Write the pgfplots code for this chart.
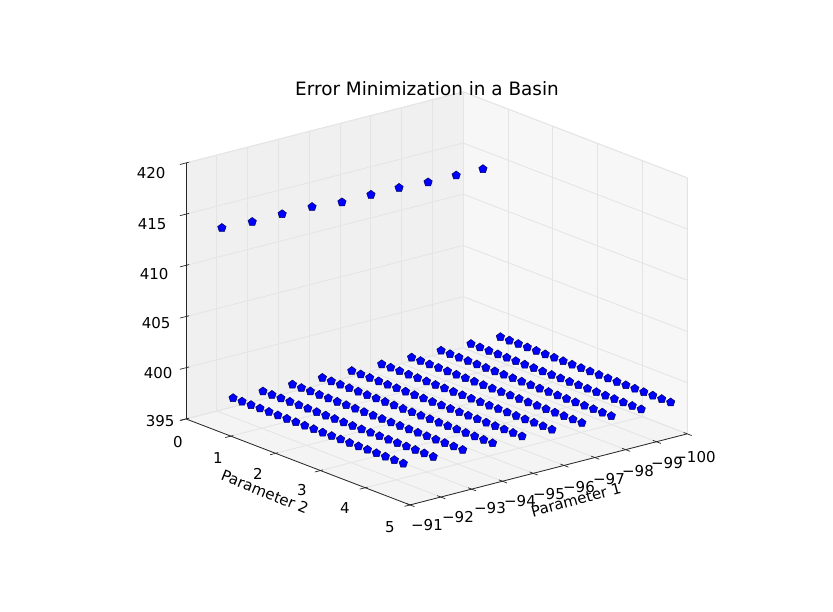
\documentclass[border=0pt]{standalone}
\usepackage{fontspec}
\setmainfont{DejaVu Sans}
\usepackage{pgfplots}
\pgfplotsset{compat=1.18}
\definecolor{floorc}{gray}{0.955}
\definecolor{leftc}{gray}{0.94}
\definecolor{rightc}{gray}{0.967}
\definecolor{edgec}{gray}{0.90}
\definecolor{gridc}{gray}{0.895}
\definecolor{markedge}{rgb}{0,0,0.35}
\newcommand{\tf}{\fontsize{15}{18}\selectfont}
\pgfplotsset{pstyle/.style={only marks, mark=pentagon*, mark size=4.4pt,
  mark options={fill=blue, draw=markedge, line width=0.5pt}}}
\begin{document}
\begin{tikzpicture}
\begin{axis}[
  x={(-30.8pt,-7.9pt)}, y={(44.8pt,-17.2pt)}, z={(0pt,10.24pt)},
  disabledatascaling,
  xmin=-100, xmax=-91, ymin=0, ymax=5, zmin=395, zmax=420,
  hide axis, clip=false,
]
% panes
\fill[floorc] (axis cs:-91,0,395) -- (axis cs:-91,5,395) -- (axis cs:-100,5,395) -- (axis cs:-100,0,395) -- cycle;
\fill[leftc] (axis cs:-91,0,395) -- (axis cs:-100,0,395) -- (axis cs:-100,0,420) -- (axis cs:-91,0,420) -- cycle;
\fill[rightc] (axis cs:-100,0,395) -- (axis cs:-100,5,395) -- (axis cs:-100,5,420) -- (axis cs:-100,0,420) -- cycle;
% grid on floor
\pgfplotsinvokeforeach{-100,...,-91}{\draw[gridc, line width=0.8pt] (axis cs:#1,0,395) -- (axis cs:#1,5,395);}
\pgfplotsinvokeforeach{0,...,5}{\draw[gridc, line width=0.8pt] (axis cs:-91,#1,395) -- (axis cs:-100,#1,395);}
% grid on left wall (y=0)
\pgfplotsinvokeforeach{-100,...,-91}{\draw[gridc, line width=0.8pt] (axis cs:#1,0,395) -- (axis cs:#1,0,420);}
\pgfplotsinvokeforeach{395,400,...,420}{\draw[gridc, line width=0.8pt] (axis cs:-91,0,#1) -- (axis cs:-100,0,#1);}
% grid on right wall (x=-100)
\pgfplotsinvokeforeach{0,...,5}{\draw[gridc, line width=0.8pt] (axis cs:-100,#1,395) -- (axis cs:-100,#1,420);}
\pgfplotsinvokeforeach{395,400,...,420}{\draw[gridc, line width=0.8pt] (axis cs:-100,0,#1) -- (axis cs:-100,5,#1);}
% pane edges
\draw[edgec, line width=0.8pt] (axis cs:-91,0,420) -- (axis cs:-100,0,420) -- (axis cs:-100,5,420) -- (axis cs:-100,5,395);
\draw[edgec, line width=0.8pt] (axis cs:-100,0,395) -- (axis cs:-100,0,420);
% axis lines
\draw[black!85, line width=0.8pt] (axis cs:-91,5,395) -- (axis cs:-100,5,395);
\draw[black!85, line width=0.8pt] (axis cs:-91,0,395) -- (axis cs:-91,5,395);
\draw[black!85, line width=0.8pt] (axis cs:-91,0,395) -- (axis cs:-91,0,420);
% ticks
\pgfplotsinvokeforeach{-100,...,-91}{\draw[black!85, line width=0.7pt] (axis cs:#1,4.92,395) -- (axis cs:#1,5.1,395);}
\pgfplotsinvokeforeach{0,...,5}{\draw[black!85, line width=0.7pt] (axis cs:-91.08,#1,395) -- (axis cs:-90.82,#1,395);}
\pgfplotsinvokeforeach{395,400,...,420}{\draw[black!85, line width=0.7pt] (axis cs:-91.1,0,#1) -- (axis cs:-90.8,0,#1);}
\coordinate (L) at (axis cs:-91,0,395);
% data
\addplot3[pstyle] coordinates {(-91,1.05,398.8) (-91,1.25,398.8) (-91,1.45,398.8) (-91,1.65,398.8) (-91,1.85,398.8) (-91,2.05,398.8) (-91,2.25,398.8) (-91,2.45,398.8) (-91,2.65,398.8) (-91,2.85,398.8) (-91,3.05,398.8) (-91,3.25,398.8) (-91,3.45,398.8) (-91,3.65,398.8) (-91,3.85,398.8) (-91,4.05,398.8) (-91,4.25,398.8) (-91,4.45,398.8) (-91,4.65,398.8) (-91,4.85,398.8)};
\addplot3[pstyle] coordinates {(-92,1.03,398.65) (-92,1.23,398.65) (-92,1.43,398.65) (-92,1.63,398.65) (-92,1.83,398.65) (-92,2.03,398.65) (-92,2.23,398.65) (-92,2.43,398.65) (-92,2.63,398.65) (-92,2.83,398.65) (-92,3.03,398.65) (-92,3.23,398.65) (-92,3.43,398.65) (-92,3.63,398.65) (-92,3.83,398.65) (-92,4.03,398.65) (-92,4.23,398.65) (-92,4.43,398.65) (-92,4.63,398.65) (-92,4.83,398.65)};
\addplot3[pstyle] coordinates {(-93,1.00,398.5) (-93,1.20,398.5) (-93,1.40,398.5) (-93,1.60,398.5) (-93,1.80,398.5) (-93,2.00,398.5) (-93,2.20,398.5) (-93,2.40,398.5) (-93,2.60,398.5) (-93,2.80,398.5) (-93,3.00,398.5) (-93,3.20,398.5) (-93,3.40,398.5) (-93,3.60,398.5) (-93,3.80,398.5) (-93,4.00,398.5) (-93,4.20,398.5) (-93,4.40,398.5) (-93,4.60,398.5) (-93,4.80,398.5)};
\addplot3[pstyle] coordinates {(-94,0.98,398.35) (-94,1.18,398.35) (-94,1.38,398.35) (-94,1.58,398.35) (-94,1.78,398.35) (-94,1.98,398.35) (-94,2.18,398.35) (-94,2.38,398.35) (-94,2.58,398.35) (-94,2.78,398.35) (-94,2.98,398.35) (-94,3.18,398.35) (-94,3.38,398.35) (-94,3.58,398.35) (-94,3.78,398.35) (-94,3.98,398.35) (-94,4.18,398.35) (-94,4.38,398.35) (-94,4.58,398.35) (-94,4.78,398.35)};
\addplot3[pstyle] coordinates {(-95,0.95,398.2) (-95,1.15,398.2) (-95,1.35,398.2) (-95,1.55,398.2) (-95,1.75,398.2) (-95,1.95,398.2) (-95,2.15,398.2) (-95,2.35,398.2) (-95,2.55,398.2) (-95,2.75,398.2) (-95,2.95,398.2) (-95,3.15,398.2) (-95,3.35,398.2) (-95,3.55,398.2) (-95,3.75,398.2) (-95,3.95,398.2) (-95,4.15,398.2) (-95,4.35,398.2) (-95,4.55,398.2) (-95,4.75,398.2)};
\addplot3[pstyle] coordinates {(-96,0.93,398.05) (-96,1.13,398.05) (-96,1.33,398.05) (-96,1.53,398.05) (-96,1.73,398.05) (-96,1.93,398.05) (-96,2.13,398.05) (-96,2.33,398.05) (-96,2.53,398.05) (-96,2.73,398.05) (-96,2.93,398.05) (-96,3.13,398.05) (-96,3.33,398.05) (-96,3.53,398.05) (-96,3.73,398.05) (-96,3.93,398.05) (-96,4.13,398.05) (-96,4.33,398.05) (-96,4.53,398.05) (-96,4.73,398.05)};
\addplot3[pstyle] coordinates {(-97,0.91,397.9) (-97,1.11,397.9) (-97,1.31,397.9) (-97,1.51,397.9) (-97,1.71,397.9) (-97,1.91,397.9) (-97,2.11,397.9) (-97,2.31,397.9) (-97,2.51,397.9) (-97,2.71,397.9) (-97,2.91,397.9) (-97,3.11,397.9) (-97,3.31,397.9) (-97,3.51,397.9) (-97,3.71,397.9) (-97,3.91,397.9) (-97,4.11,397.9) (-97,4.31,397.9) (-97,4.51,397.9) (-97,4.71,397.9)};
\addplot3[pstyle] coordinates {(-98,0.88,397.75) (-98,1.08,397.75) (-98,1.28,397.75) (-98,1.48,397.75) (-98,1.68,397.75) (-98,1.88,397.75) (-98,2.08,397.75) (-98,2.28,397.75) (-98,2.48,397.75) (-98,2.68,397.75) (-98,2.88,397.75) (-98,3.08,397.75) (-98,3.28,397.75) (-98,3.48,397.75) (-98,3.68,397.75) (-98,3.88,397.75) (-98,4.08,397.75) (-98,4.28,397.75) (-98,4.48,397.75) (-98,4.68,397.75)};
\addplot3[pstyle] coordinates {(-99,0.86,397.6) (-99,1.06,397.6) (-99,1.26,397.6) (-99,1.46,397.6) (-99,1.66,397.6) (-99,1.86,397.6) (-99,2.06,397.6) (-99,2.26,397.6) (-99,2.46,397.6) (-99,2.66,397.6) (-99,2.86,397.6) (-99,3.06,397.6) (-99,3.26,397.6) (-99,3.46,397.6) (-99,3.66,397.6) (-99,3.86,397.6) (-99,4.06,397.6) (-99,4.26,397.6) (-99,4.46,397.6) (-99,4.66,397.6)};
\addplot3[pstyle] coordinates {(-100,0.83,397.45) (-100,1.03,397.45) (-100,1.23,397.45) (-100,1.43,397.45) (-100,1.63,397.45) (-100,1.83,397.45) (-100,2.03,397.45) (-100,2.23,397.45) (-100,2.43,397.45) (-100,2.63,397.45) (-100,2.83,397.45) (-100,3.03,397.45) (-100,3.23,397.45) (-100,3.43,397.45) (-100,3.63,397.45) (-100,3.83,397.45) (-100,4.03,397.45) (-100,4.23,397.45) (-100,4.43,397.45) (-100,4.63,397.45)};
\addplot3[pstyle] coordinates {(-91,0.80,415.0) (-92,0.79,414.8) (-93,0.77,414.75) (-94,0.75,414.65) (-95,0.73,414.3) (-96,0.69,414.2) (-97,0.63,414.0) (-98,0.59,413.7) (-99,0.53,413.5) (-100,0.44,413.2)};
\end{axis}
\path (L) ++(-186pt,419pt) coordinate (TL);
\begin{scope}[shift={(TL)}, x=1pt, y=-1pt]
\path (0,0) rectangle (833,612);
\node[font=\fontsize{18.4}{22}\selectfont] at (427,89) {Error Minimization in a Basin};
% z tick labels
\node[font=\tf, anchor=east] at (169,173) {420};
\node[font=\tf, anchor=east] at (170,224) {415};
\node[font=\tf, anchor=east] at (172,274) {410};
\node[font=\tf, anchor=east] at (174,323) {405};
\node[font=\tf, anchor=east] at (176,373) {400};
\node[font=\tf, anchor=east] at (178,421) {395};
% y tick labels
\node[font=\tf] at (178,442) {0};
\node[font=\tf] at (218,458) {1};
\node[font=\tf] at (258,474) {2};
\node[font=\tf] at (302,490) {3};
\node[font=\tf] at (345,508) {4};
\node[font=\tf] at (390,527) {5};
% x tick labels
\node[font=\tf] at (427,525) {−91};
\node[font=\tf] at (458,517) {−92};
\node[font=\tf] at (490,508) {−93};
\node[font=\tf] at (520,501) {−94};
\node[font=\tf] at (549,494) {−95};
\node[font=\tf] at (579,487) {−96};
\node[font=\tf] at (609,479) {−97};
\node[font=\tf] at (638,471) {−98};
\node[font=\tf] at (667,463) {−99};
\node[font=\tf] at (695,457) {−100};
% axis labels
\node[font=\tf, rotate=-22] at (265,492) {Parameter 2};
\node[font=\tf, rotate=15] at (576,500) {Parameter 1};
\end{scope}
\end{tikzpicture}
\end{document}
